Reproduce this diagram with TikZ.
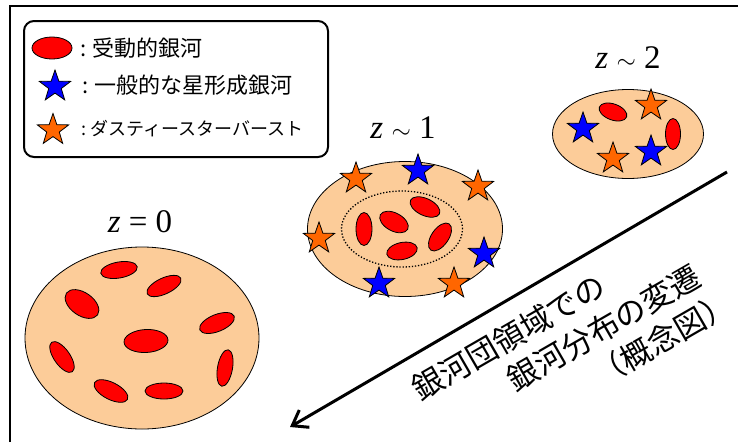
\documentclass[tikz,border=0pt]{standalone}
\usepackage{fontspec}
\setmainfont{Liberation Serif}
\newfontfamily\jp{Noto Sans CJK JP}
\usetikzlibrary{shapes.geometric,arrows.meta}
\definecolor{peach}{RGB}{252,204,153}
\definecolor{sfred}{RGB}{255,0,0}
\definecolor{sfblue}{RGB}{0,0,255}
\definecolor{sforange}{RGB}{255,102,0}
\tikzset{
  cluster/.style={ellipse, draw, fill=peach, line width=0.8pt, inner sep=0pt},
  gx/.style n args={3}{ellipse, draw, fill=sfred, line width=0.8pt, inner sep=0pt,
    minimum width=#1pt, minimum height=#2pt, rotate=#3},
  sfstar/.style={star, star points=5, star point ratio=2.5, draw, line width=0.8pt,
    minimum size=33pt, inner sep=0pt},
  bstar/.style={sfstar, fill=sfblue},
  ostar/.style={sfstar, fill=sforange},
  zlabel/.style={font=\fontsize{33}{36}\selectfont, inner sep=0pt},
  legtext/.style={font=\fontsize{22}{24}\selectfont\jp, anchor=west, inner sep=0pt},
  rottext/.style={font=\fontsize{31}{39}\selectfont\jp, rotate=30, inner sep=0pt, align=left},
}
\begin{document}
\begin{tikzpicture}[x=1pt,y=-1pt]
\useasboundingbox (0,0) rectangle (738,442);
% frame
\draw[line width=2.5pt] (10,442) -- (10,6) -- (738,6);
% legend
\node[draw, rounded corners=10pt, line width=2pt, minimum width=304pt, minimum height=136pt, inner sep=0pt] (legend) at (176,89) {};
\node[gx={40}{22}{0}] (lg1) at (52,48) {};
\node[legtext] (lt1) at (80,48) {:\hspace{6pt}受動的銀河};
\node[bstar] (lg2) at (55,86.5) {};
\node[legtext] (lt2) at (82,85) {:\hspace{6pt}一般的な星形成銀河};
\node[ostar] (lg3) at (53,130) {};
\node[legtext, font=\fontsize{18}{20}\selectfont\jp] (lt3) at (81,129) {:\hspace{4pt}ダスティースターバースト};

% z ~ 2
\node[zlabel] (z2) at (628,58) {\textit{z} $\sim$ 2};
\node[cluster, minimum width=151pt, minimum height=89pt] (c2) at (628,134) {};
\node[gx={29}{16}{-20}] (g21) at (613,112) {};
\node[gx={15}{31}{0}] (g22) at (673,134) {};
\node[bstar] (s21) at (583,128.5) {};
\node[ostar] (s22) at (651,105.5) {};
\node[ostar] (s23) at (613,158.5) {};
\node[bstar] (s24) at (651,151.5) {};

% z ~ 1
\node[zlabel] (z1) at (403,128) {\textit{z} $\sim$ 1};
\node[cluster, minimum width=195pt, minimum height=135pt] (c1) at (405,229) {};
\node[ellipse, draw, line width=1.3pt, dash pattern=on 1.3pt off 1.8pt, minimum width=121pt, minimum height=76pt, inner sep=0pt] (core1) at (402,229) {};
\node[gx={32}{17}{-25}] (g11) at (425,207) {};
\node[gx={31}{18}{-28}] (g12) at (394,222) {};
\node[gx={16}{33}{0}] (g13) at (364,229) {};
\node[gx={32}{17}{55}] (g14) at (440,237) {};
\node[gx={31}{17}{12}] (g15) at (402,251) {};
\node[ostar] (s11) at (356,178.5) {};
\node[bstar] (s12) at (418,170.5) {};
\node[ostar] (s13) at (478,186.5) {};
\node[ostar] (s14) at (319,238.5) {};
\node[bstar] (s15) at (484,253.5) {};
\node[bstar] (s16) at (379,283.5) {};
\node[ostar] (s17) at (454,283.5) {};

% z = 0
\node[zlabel] (z0) at (140,222) {\textit{z} = 0};
\node[cluster, minimum width=234pt, minimum height=182pt] (c0) at (142,338) {};
\node[gx={37}{16}{10}] (g01) at (119,270) {};
\node[gx={37}{16}{25}] (g02) at (164,286) {};
\node[gx={38}{23}{-35}] (g03) at (82,304) {};
\node[gx={37}{17}{22}] (g04) at (217,323) {};
\node[gx={44}{23}{3}] (g05) at (146,341) {};
\node[gx={36}{16}{-55}] (g06) at (62,357) {};
\node[gx={37}{15}{80}] (g07) at (225,368) {};
\node[gx={37}{17}{-27}] (g08) at (111,391) {};
\node[gx={38}{16}{0}] (g09) at (164,391) {};

% arrow
\coordinate (astart) at (727,172);
\coordinate (aend) at (290,427);
\draw[line width=3pt, -{Straight Barb[length=14pt,width=20pt,line width=3pt]}] (astart) -- (aend);
\node[rottext] (note) at (572.5,346) {銀河団領域での\\\hspace*{87pt}銀河分布の変遷\\\hspace*{164pt}（概念図）};
\end{tikzpicture}
\end{document}
